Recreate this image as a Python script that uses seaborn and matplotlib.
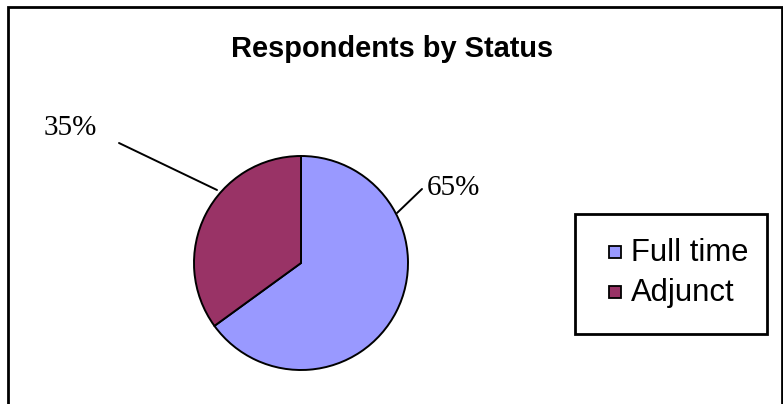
import numpy as np
import matplotlib
matplotlib.use("Agg")
import matplotlib.pyplot as plt
from matplotlib.patches import Rectangle
import seaborn as sns

# ---- data ----
categories = ["Full time", "Adjunct"]
shares = [65, 35]
pct_labels = ["65%", "35%"]
colors = ["#9999FF", "#993366"]
title = "Respondents by Status"

sns.set_theme(style="white")
plt.rcParams["font.family"] = ["Liberation Sans", "DejaVu Sans"]

W, H = 783, 404
fig = plt.figure(figsize=(W / 100, H / 100), dpi=100)
ax = fig.add_axes([0, 0, 1, 1])


def Y(y):
    """convert image (top-down) pixel y to axes data y"""
    return H - y


# pie
cx, cy, r = 301, 263, 107
ax.pie(shares, colors=colors, startangle=90, counterclock=False,
       center=(cx, Y(cy)), radius=r,
       wedgeprops=dict(edgecolor="black", linewidth=1.4))
ax.set_xlim(0, W)
ax.set_ylim(0, H)
ax.set_aspect("equal")
ax.axis("off")

# outer chart border (left, top, right)
ax.plot([8, 8, 781.5, 781.5], [Y(404), Y(7), Y(7), Y(404)],
        color="black", lw=2, solid_joinstyle="miter", clip_on=False)

# title
ax.text(392, Y(57), title, ha="center", va="baseline",
        fontsize=20.9, fontweight="bold", color="black",
        family=["Liberation Sans", "DejaVu Sans"])

# percentage labels with leader lines
label_pos = {"65%": (427, 195), "35%": (44, 135)}
leader = {"65%": [(397, 213), (422, 189)], "35%": [(217, 190), (119, 143)]}
for lab in pct_labels:
    x, y = label_pos[lab]
    ax.text(x, Y(y), lab, ha="left", va="baseline", fontsize=21,
            color="black", family=["Liberation Serif", "DejaVu Serif"])
    (x0, y0), (x1, y1) = leader[lab]
    ax.plot([x0, x1], [Y(y0), Y(y1)], color="black", lw=1.4)

# legend box
bx0, by0, bx1, by1 = 575, 214, 767, 334
ax.add_patch(Rectangle((bx0, Y(by1)), bx1 - bx0, by1 - by0,
                       facecolor="white", edgecolor="black", lw=2))
row_y = [252, 292]
for cat, col, yy in zip(categories, colors, row_y):
    ax.add_patch(Rectangle((609, Y(yy + 6)), 12, 12,
                           facecolor=col, edgecolor="black", lw=1.3))
    ax.text(631, Y(yy + 1), cat, ha="left", va="center", fontsize=22.3,
            color="black", family=["Liberation Sans", "DejaVu Sans"])

fig.savefig("out.png", dpi=100)
